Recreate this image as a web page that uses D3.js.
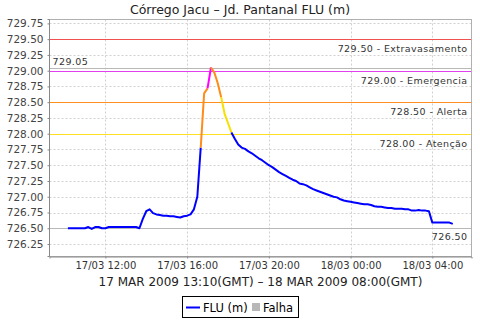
<!DOCTYPE html>
<html>
<head>
<meta charset="utf-8">
<title>Córrego Jacu</title>
<style>
  body { margin: 0; background: #fff; }
  svg { font-family: "DejaVu Sans", sans-serif; }
</style>
</head>
<body>
<svg></svg>
<script src="https://d3js.org/d3.v7.min.js"></script>
<script>
// readings every 10 minutes, starting 17/03 10:10 (local)
var startTime = "2009-03-17T10:10:00Z";
var stepMinutes = 10;
var levels = [
  726.50, 726.50, 726.50, 726.50, 726.50, 726.50, 726.52, 726.49, 726.52, 726.52,
  726.50, 726.50, 726.52, 726.52, 726.52, 726.52, 726.52, 726.52, 726.52, 726.52,
  726.52, 726.50, 726.65, 726.77, 726.80, 726.74, 726.72, 726.71, 726.70, 726.70,
  726.69, 726.69, 726.68, 726.67, 726.69, 726.70, 726.72, 726.80, 727.00, 727.78,
  728.64, 728.72, 729.05, 728.97, 728.80, 728.58, 728.32, 728.17, 728.02, 727.92,
  727.83, 727.78, 727.76, 727.72, 727.69, 727.65, 727.61, 727.58, 727.54, 727.50,
  727.47, 727.43, 727.39, 727.36, 727.33, 727.30, 727.27, 727.25, 727.21, 727.20,
  727.18, 727.15, 727.12, 727.10, 727.08, 727.06, 727.04, 727.02, 727.00, 726.99,
  726.96, 726.94, 726.93, 726.92, 726.91, 726.90, 726.89, 726.88, 726.88, 726.87,
  726.85, 726.84, 726.84, 726.83, 726.82, 726.82, 726.81, 726.81, 726.81, 726.80,
  726.80, 726.78, 726.78, 726.79, 726.78, 726.78, 726.77, 726.59, 726.59, 726.59,
  726.59, 726.59, 726.59, 726.57
];

// alarm levels
var thresholdValues = [729.50, 729.00, 728.50, 728.00];
var thresholdNames = ["Extravasamento", "Emergencia", "Alerta", "Atenção"];
var thresholdColors = ["#f05050", "#e040f0", "#ff9020", "#ffe020"];
var seriesColors = ["#ff00ff", "#ff8c1a", "#f5e000", "#0000ff"]; // >729, >728.5, >728, rest

var yTicks = [726.25, 726.50, 726.75, 727.00, 727.25, 727.50, 727.75, 728.00,
              728.25, 728.50, 728.75, 729.00, 729.25, 729.50, 729.75];

var title = "Córrego Jacu – Jd. Pantanal FLU (m)";
var xLabel = "17 MAR 2009 13:10(GMT) – 18 MAR 2009 08:00(GMT)";

window.onload = function() {
  var svg = d3.select("svg").attr("width", 480).attr("height", 320);

  var left = 49.5, right = 471.5, top = 19.5, bottom = 256.5;

  var t0 = new Date(startTime);
  var data = levels.map(function(v, i) {
    return { t: new Date(t0.getTime() + i * stepMinutes * 60000), v: v };
  });

  var x = d3.scaleUtc()
    .domain([new Date("2009-03-17T09:16:00Z"), new Date("2009-03-18T05:55:00Z")])
    .range([left, right]);
  var y = d3.scaleLinear().domain([726.06, 729.82]).range([256, 19]);
  function py(v) { return Math.round(y(v)) + 0.5; }

  var xTicks = x.ticks(d3.utcHour.every(4));

  // grid (skipped where a marker line sits)
  var gridY = yTicks.filter(function(d) { return thresholdValues.indexOf(d) < 0 && d != 726.50; });
  svg.append("g").selectAll("line").data(gridY).enter().append("line")
    .attr("x1", left).attr("x2", right)
    .attr("y1", py).attr("y2", py)
    .attr("stroke", "#d0d0d0").attr("stroke-dasharray", "2,2");
  svg.append("g").selectAll("line").data(xTicks).enter().append("line")
    .attr("y1", top).attr("y2", bottom)
    .attr("x1", function(d) { return Math.round(x(d)) + 0.5; })
    .attr("x2", function(d) { return Math.round(x(d)) + 0.5; })
    .attr("stroke", "#d0d0d0").attr("stroke-dasharray", "2,2");

  // plot outline
  svg.append("rect").attr("x", left).attr("y", top)
    .attr("width", right - left).attr("height", bottom - top)
    .attr("fill", "none").attr("stroke", "#b0b0b0");

  // max / min markers
  var maxV = d3.max(levels), minV = 726.50;
  svg.append("line").attr("x1", left).attr("x2", right)
    .attr("y1", py(maxV)).attr("y2", py(maxV)).attr("stroke", "#b8b8b8");
  svg.append("text").attr("x", left + 3).attr("y", py(maxV) - 4)
    .attr("font-size", 9.5).attr("fill", "#333").attr("letter-spacing", 0.4)
    .text(maxV.toFixed(2));
  svg.append("line").attr("x1", left).attr("x2", right)
    .attr("y1", py(minV)).attr("y2", py(minV)).attr("stroke", "#b8b8b8");
  svg.append("text").attr("x", right - 4).attr("y", py(minV) + 11)
    .attr("text-anchor", "end").attr("font-size", 9.5).attr("fill", "#333")
    .attr("letter-spacing", 0.4)
    .text(minV.toFixed(2));

  // threshold markers
  thresholdValues.forEach(function(v, k) {
    svg.append("line").attr("x1", left + 0.5).attr("x2", right - 0.5)
      .attr("y1", py(v)).attr("y2", py(v))
      .style("stroke", thresholdColors[k]).style("stroke-width", 1);
    svg.append("text").attr("x", right - 4).attr("y", py(v) + 12)
      .attr("text-anchor", "end").attr("font-size", 9.5).attr("fill", "#333")
      .attr("letter-spacing", 0.4)
      .text(v.toFixed(2) + " - " + thresholdNames[k]);
  });

  // series, each segment coloured by the level it reaches
  function colorOf(v) {
    if (v > 729.00) return seriesColors[0];
    if (v >= 728.50) return seriesColors[1];
    if (v >= 728.00) return seriesColors[2];
    return seriesColors[3];
  }
  var runs = [];
  for (var i = 1; i < data.length; i++) {
    var c = colorOf(data[i].v);
    var last = runs[runs.length - 1];
    if (last && last.color == c) {
      last.pts.push(data[i]);
    } else {
      runs.push({ color: c, pts: [data[i - 1], data[i]] });
    }
  }
  var line = d3.line().x(function(d) { return x(d.t); }).y(function(d) { return y(d.v); });
  svg.append("g").selectAll("path").data(runs).enter().append("path")
    .attr("d", function(r) { return line(r.pts); })
    .attr("fill", "none")
    .attr("stroke", function(r) { return r.color; })
    .attr("stroke-width", 2)
    .attr("stroke-linejoin", "round");

  // axes
  var yAxis = d3.axisLeft(y).tickValues(yTicks).tickFormat(d3.format(".2f"))
    .tickSize(2).tickPadding(4);
  var gy = svg.append("g").attr("transform", "translate(" + left + ",0)").call(yAxis);
  gy.selectAll("text").attr("font-size", 10.5).attr("fill", "#444")
    .attr("font-family", "DejaVu Sans");
  gy.selectAll("line").attr("stroke", "#888");
  gy.select(".domain").attr("stroke", "#888").attr("d", "M-2," + top + "H0V" + bottom + "H-2");

  var xAxis = d3.axisBottom(x).tickValues(xTicks)
    .tickFormat(d3.utcFormat("%d/%m %H:%M")).tickSize(2).tickPadding(3);
  var gx = svg.append("g").attr("transform", "translate(0," + bottom + ")").call(xAxis);
  gx.selectAll("text").attr("font-size", 10).attr("fill", "#333")
    .attr("font-family", "DejaVu Sans");
  gx.selectAll("line").attr("stroke", "#888");
  gx.select(".domain").attr("stroke", "#888");

  // title and axis label
  svg.append("text").attr("x", 240).attr("y", 14).attr("text-anchor", "middle")
    .attr("font-size", 12.5).attr("fill", "#222").text(title);
  svg.append("text").attr("x", (left + right) / 2).attr("y", 286).attr("text-anchor", "middle")
    .attr("font-size", 12).attr("fill", "#222").text(xLabel);

  // legend
  var lg = svg.append("g");
  lg.append("rect").attr("x", 182.5).attr("y", 296.5).attr("width", 116).attr("height", 21)
    .attr("fill", "#fff").attr("stroke", "#000");
  lg.append("line").attr("x1", 186).attr("x2", 200).attr("y1", 307.5).attr("y2", 307.5)
    .attr("stroke", seriesColors[3]).attr("stroke-width", 2);
  lg.append("text").attr("x", 203).attr("y", 312).attr("font-size", 11.5).attr("fill", "#000")
    .text("FLU (m)");
  lg.append("rect").attr("x", 252).attr("y", 303).attr("width", 8).attr("height", 8)
    .attr("fill", "#b8b8b8");
  lg.append("text").attr("x", 263).attr("y", 312).attr("font-size", 11.5).attr("fill", "#000")
    .text("Falha");
};
</script>
</body>
</html>
